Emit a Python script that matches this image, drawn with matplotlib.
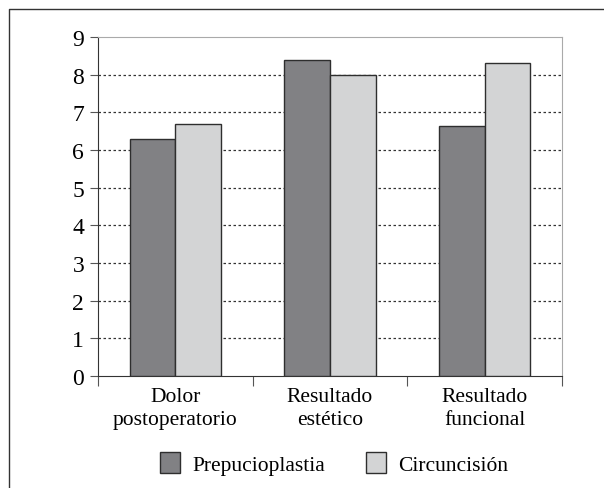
import numpy as np
import matplotlib.pyplot as plt
from matplotlib.lines import Line2D
from matplotlib.patches import Patch

# Datos
categorias = ['Dolor\npostoperatorio', 'Resultado\nestético', 'Resultado\nfuncional']
prepucioplastia = [6.3, 8.4, 6.65]
circuncision = [6.7, 8.0, 8.3]
series = ['Prepucioplastia', 'Circuncisión']

plt.rcParams['font.family'] = ['Liberation Serif', 'DejaVu Serif']

fig = plt.figure(figsize=(6.04, 4.89), dpi=100)
ax = fig.add_axes([0.1623, 0.229, 0.7682, 0.6933])

x = np.arange(len(categorias))
ancho = 0.295
c_osc = '#818184'
c_cla = '#d3d4d5'
borde = '#2e2e2e'

ax.bar(x - ancho / 2, prepucioplastia, ancho, color=c_osc, edgecolor=borde, linewidth=1.0, zorder=3)
ax.bar(x + ancho / 2, circuncision, ancho, color=c_cla, edgecolor=borde, linewidth=1.0, zorder=3)

ax.set_xlim(-0.5, len(categorias) - 0.5)
ax.set_ylim(0, 9)
ax.set_yticks(range(0, 10))
ax.tick_params(axis='y', labelsize=17, length=6, color='#555555', pad=4)

# ticks del eje x en los límites de categoría, etiquetas centradas
ax.set_xticks(np.arange(-0.5, len(categorias)), minor=False)
ax.set_xticklabels([''] * (len(categorias) + 1))
ax.tick_params(axis='x', length=7, color='#555555')
ax.set_xticks(x, minor=True)
ax.set_xticklabels(categorias, minor=True, fontsize=15.5, linespacing=1.3)
ax.tick_params(axis='x', which='minor', length=0, pad=8)

# rejilla punteada
for v in range(1, 9):
    ax.axhline(v, color='#333333', linestyle=(0, (2, 2)), linewidth=0.9, zorder=1)

ax.spines['left'].set_color('#333333')
ax.spines['bottom'].set_color('#333333')
ax.spines['top'].set_color('#aaaaaa')
ax.spines['right'].set_color('#aaaaaa')

handles = [Patch(facecolor=c_osc, edgecolor=borde, linewidth=1.0),
           Patch(facecolor=c_cla, edgecolor=borde, linewidth=1.0)]
fig.legend(handles, series, loc='center', bbox_to_anchor=(0.553, 0.05), ncol=2,
           frameon=False, fontsize=15.5, handlelength=0.95, handleheight=1.1,
           columnspacing=1.9, handletextpad=0.55)

# marco exterior
fig.add_artist(Line2D([9 / 604, 9 / 604, 1.0], [0.0, 1 - 10 / 489, 1 - 10 / 489],
                      transform=fig.transFigure, color='#333333', linewidth=1.0))

fig.savefig('out.png', dpi=100)
